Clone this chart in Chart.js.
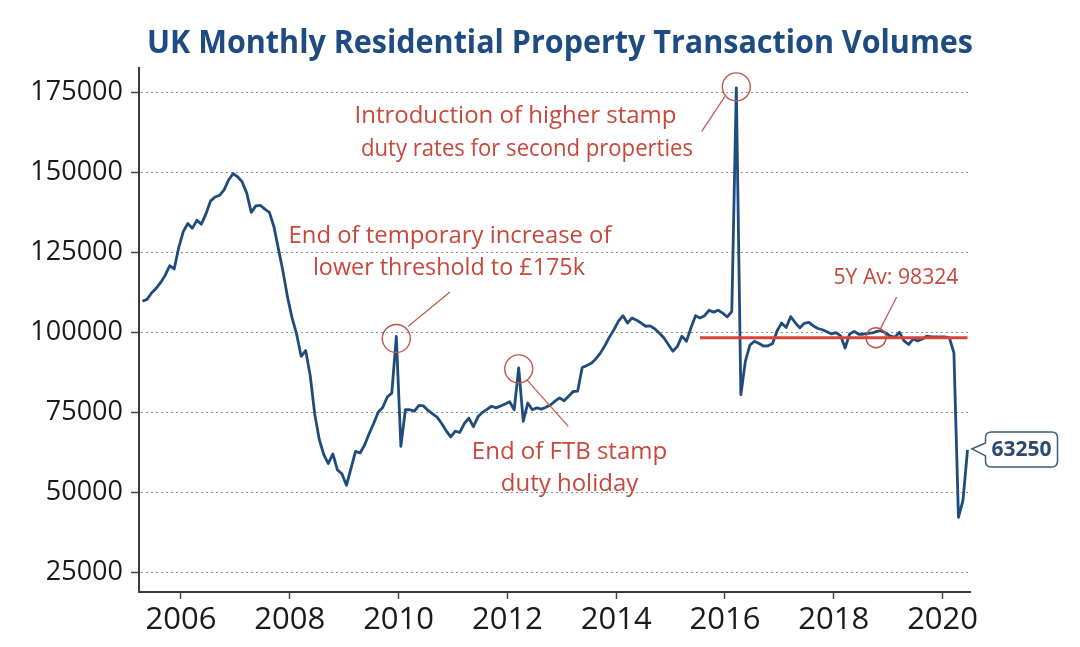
<!DOCTYPE html>
<html>
<head>
<meta charset="utf-8">
<script src="https://cdn.jsdelivr.net/npm/chart.js@4.4.1/dist/chart.umd.min.js"></script>
<style>
  html, body { margin: 0; padding: 0; background: #ffffff; }
  #c { display: block; }
</style>
</head>
<body>
<canvas id="c" width="1080" height="647"></canvas>
<script>
// Monthly UK residential transactions, first value = April 2005
const startYear = 2005;
const startMonth = 4;
const v2005 = [109700, 110300, 112300, 113700, 115500, 117800, 120800, 119800, 126500];
const v2006 = [131500, 134000, 132500, 135000, 133800, 137000, 141000, 142300, 142800, 144500, 147600, 149600];
const v2007 = [148600, 147000, 143500, 137500, 139500, 139700, 138500, 137500, 133000, 126000, 119000, 111000];
const v2008 = [104500, 99500, 92500, 94300, 86500, 74500, 66500, 61800, 59000, 62000, 57000, 55800];
const v2009 = [52200, 57500, 62800, 62300, 64800, 68300, 71500, 75000, 76500, 79800, 81000, 98700];
const v2010 = [64400, 75800, 75800, 75400, 77200, 77000, 75600, 74500, 73500, 71500, 69200, 67300];
const v2011 = [69100, 68700, 71500, 73200, 70500, 73600, 75000, 75900, 76900, 76400, 77000, 77600];
const v2012 = [78300, 75800, 88900, 72200, 77900, 75800, 76400, 76000, 76600, 77300, 78500, 79500];
const v2013 = [78600, 80000, 81500, 81600, 89000, 89600, 90300, 91700, 93500, 95800, 98500, 100800];
const v2014 = [103500, 105200, 102900, 104500, 103800, 102900, 101900, 102000, 101100, 99800, 98300, 96200];
const v2015 = [94100, 95600, 98800, 97200, 101400, 105200, 104500, 105200, 106900, 106300, 106900, 106000];
const v2016 = [104800, 106500, 176400, 80500, 91000, 96000, 97200, 96500, 95700, 95800, 96500, 100500];
const v2017 = [102900, 101500, 104900, 103000, 101400, 102800, 103100, 102000, 101200, 100800, 100200, 99500];
const v2018 = [99900, 98900, 95100, 99500, 100300, 99400, 99400, 99700, 99800, 100300, 100500, 99700];
const v2019 = [98800, 98500, 100000, 97300, 96200, 97900, 97300, 97900, 98800, 98600, 98600, 98600];
const v2020 = [98600, 98300, 93600, 42200, 47500, 63250];

const volumes = [].concat(v2005, v2006, v2007, v2008, v2009, v2010, v2011, v2012,
  v2013, v2014, v2015, v2016, v2017, v2018, v2019, v2020);

const fiveYearAverage = 98324;
const averageStartIndex = 123;   // July 2015
const yTicks = [25000, 50000, 75000, 100000, 125000, 150000, 175000];
const xTicks = [2006, 2008, 2010, 2012, 2014, 2016, 2018, 2020];

const titleText = 'UK Monthly Residential Property Transaction Volumes';
const noteStampSecond = ['Introduction of higher stamp', 'duty rates for second properties'];
const noteThreshold = ['End of temporary increase of', 'lower threshold to £175k'];
const noteFTB = ['End of FTB stamp', 'duty holiday'];
const noteAverage = '5Y Av: ' + fiveYearAverage;

const monthX = i => startYear + (startMonth - 1 + i + 0.5) / 12;
const points = volumes.map((v, i) => ({ x: monthX(i), y: v }));
const avgPoints = [
  { x: monthX(averageStartIndex), y: fiveYearAverage },
  { x: monthX(volumes.length - 1), y: fiveYearAverage }
];

const idxThreshold = volumes.indexOf(98700);
const idxFTB = volumes.indexOf(88900);
const idxSpike = volumes.indexOf(176400);

const RED = '#c8473b';
const CIRCLE = '#c0564a';

const annoPlugin = {
  id: 'anno',
  beforeDatasetsDraw(chart) {
    const { ctx, chartArea, scales } = chart;
    ctx.save();
    ctx.strokeStyle = '#8e8e8e';
    ctx.lineWidth = 1;
    ctx.setLineDash([2, 3]);
    yTicks.forEach(t => {
      const y = Math.round(scales.y.getPixelForValue(t)) + 0.5;
      ctx.beginPath();
      ctx.moveTo(chartArea.left + 2, y);
      ctx.lineTo(chartArea.right, y);
      ctx.stroke();
    });
    ctx.restore();
  },
  afterDatasetsDraw(chart) {
    const { ctx, scales } = chart;
    const X = v => scales.x.getPixelForValue(v);
    const Y = v => scales.y.getPixelForValue(v);
    const meta = chart.getDatasetMeta(1);
    const pt = i => meta.data[i];

    ctx.save();
    // circles
    ctx.strokeStyle = CIRCLE;
    ctx.lineWidth = 1.4;
    const circ = (x, y, r) => { ctx.beginPath(); ctx.arc(x, y, r, 0, Math.PI * 2); ctx.stroke(); };
    circ(pt(idxSpike).x, pt(idxSpike).y - 1, 14);
    circ(pt(idxThreshold).x, pt(idxThreshold).y + 2, 14);
    circ(pt(idxFTB).x, pt(idxFTB).y + 1, 14);
    circ(X(2018.776), Y(fiveYearAverage), 10);

    // leader lines
    ctx.lineWidth = 1.2;
    const seg = (x1, y1, x2, y2) => { ctx.beginPath(); ctx.moveTo(X(x1), Y(y1)); ctx.lineTo(X(x2), Y(y2)); ctx.stroke(); };
    seg(2015.572, 162800, 2016.0, 173750);
    seg(2010.945, 112600, 2010.178, 101900);
    seg(2012.355, 85200, 2013.12, 70600);
    seg(2019.156, 111060, 2018.849, 100840);

    // texts
    ctx.fillStyle = RED;
    ctx.textAlign = 'center';
    ctx.textBaseline = 'middle';
    ctx.font = '24px "Open Sans"';
    ctx.fillText(noteStampSecond[0], X(2012.149), Y(167400), 322);
    ctx.fillText(noteStampSecond[1], X(2012.36), Y(157100), 332);
    ctx.fillText(noteThreshold[0], X(2010.945), Y(129900), 323);
    ctx.fillText(noteThreshold[1], X(2010.926), Y(120200), 272);
    ctx.fillText(noteFTB[0], X(2013.142), Y(62700), 198);
    ctx.fillText(noteFTB[1], X(2013.142), Y(52700), 138);
    ctx.font = '22px "Open Sans"';
    ctx.fillText(noteAverage, X(2019.143), Y(117100), 125);

    // last value callout
    const last = pt(volumes.length - 1);
    const bx = last.x + 18, bw = 72, by = last.y - 18, bh = 35, r = 6;
    ctx.beginPath();
    ctx.moveTo(bx + r, by);
    ctx.lineTo(bx + bw - r, by);
    ctx.quadraticCurveTo(bx + bw, by, bx + bw, by + r);
    ctx.lineTo(bx + bw, by + bh - r);
    ctx.quadraticCurveTo(bx + bw, by + bh, bx + bw - r, by + bh);
    ctx.lineTo(bx + r, by + bh);
    ctx.quadraticCurveTo(bx, by + bh, bx, by + bh - r);
    ctx.lineTo(bx, last.y + 6);
    ctx.lineTo(last.x + 4.5, last.y - 1);
    ctx.lineTo(bx, last.y - 7);
    ctx.lineTo(bx, by + r);
    ctx.quadraticCurveTo(bx, by, bx + r, by);
    ctx.closePath();
    ctx.fillStyle = '#ffffff';
    ctx.fill();
    ctx.strokeStyle = '#3f5b78';
    ctx.lineWidth = 1.5;
    ctx.stroke();
    ctx.fillStyle = '#2c4a6b';
    ctx.font = 'bold 21px "Open Sans"';
    ctx.textAlign = 'center';
    ctx.fillText(String(volumes[volumes.length - 1]), bx + bw / 2, last.y);
    ctx.restore();
  },
  afterDraw(chart) {
    const { ctx } = chart;
    ctx.save();
    ctx.fillStyle = '#1d4b82';
    ctx.font = 'bold 32px "Open Sans"';
    ctx.textAlign = 'center';
    ctx.textBaseline = 'alphabetic';
    ctx.fillText(titleText, 560, 53, 826);
    ctx.restore();
  }
};

new Chart(document.getElementById('c'), {
  type: 'line',
  data: {
    datasets: [
      {
        label: '5Y average',
        data: avgPoints,
        borderColor: '#d8443a',
        borderWidth: 3,
        pointRadius: 0,
        order: 0
      },
      {
        label: 'Transactions',
        data: points,
        borderColor: '#1f4c7c',
        borderWidth: 2.8,
        pointRadius: 0,
        tension: 0,
        borderJoinStyle: 'round',
        order: 1
      }
    ]
  },
  options: {
    responsive: false,
    animation: false,
    devicePixelRatio: 1,
    layout: { padding: { left: 0, right: 110, top: 68, bottom: 0 } },
    plugins: {
      legend: { display: false },
      tooltip: { enabled: false },
      title: { display: false }
    },
    scales: {
      x: {
        type: 'linear',
        min: 2005.228,
        max: 2020.504,
        afterFit: s => { s.height = 55; },
        afterBuildTicks: s => { s.ticks = xTicks.map(v => ({ value: v })); },
        grid: { display: true, drawOnChartArea: false, drawTicks: true, tickLength: 7, tickColor: '#444444', tickWidth: 1.5 },
        border: { display: true, color: '#3c3c3c', width: 2 },
        ticks: {
          autoSkip: false, maxRotation: 0, padding: 3, color: '#1a1a1a',
          font: { family: 'Open Sans', size: 31 },
          callback: v => String(Math.round(v))
        }
      },
      y: {
        type: 'linear',
        min: 18850,
        max: 182600,
        afterFit: s => { s.width = 139; },
        afterBuildTicks: s => { s.ticks = yTicks.map(v => ({ value: v })); },
        grid: { display: true, drawOnChartArea: false, drawTicks: true, tickLength: 8, tickColor: '#444444', tickWidth: 1.5 },
        border: { display: true, color: '#3c3c3c', width: 2 },
        ticks: {
          padding: 8, color: '#1a1a1a',
          font: { family: 'Open Sans', size: 27 },
          callback: v => String(v)
        }
      }
    }
  },
  plugins: [annoPlugin]
});
</script>
</body>
</html>
